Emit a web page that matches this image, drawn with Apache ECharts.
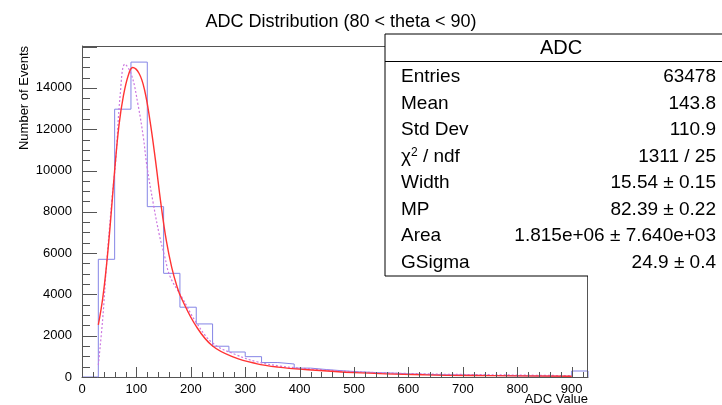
<!DOCTYPE html>
<html>
<head>
<meta charset="utf-8">
<script src="https://cdn.jsdelivr.net/npm/echarts@6/dist/echarts.min.js"></script>
<style>
  html, body { margin: 0; padding: 0; background: #fff; }
  #chart { width: 722px; height: 405px; }
</style>
</head>
<body>
<div id="chart"></div>
<script>
// histogram bins (low edges, width 30) and counts
const binLow = [0, 30, 60, 90, 120, 150, 180, 210, 240, 270, 300, 330, 360, 390, 420, 450,
  480, 510, 540, 570, 600, 630, 660, 690, 720, 750, 780, 810, 840, 870, 900];
const binCounts = [0, 5700, 12970, 15250, 8250, 5020, 3380, 2570, 1490, 1210, 985, 700, 630, 430, 360, 300,
  250, 215, 190, 150, 130, 110, 100, 90, 75, 65, 55, 45, 40, 30, 290];
const xMaxEdge = 930;

// fitted curves
const redX = [30, 38, 45, 52, 60, 68, 76, 85, 93, 105, 115, 125, 135, 145, 155, 165, 175, 183, 210, 240, 280, 320, 360, 410, 500, 630, 750, 900];
const redY = [2520, 3800, 5400, 7400, 10000, 12200, 13600, 14600, 14990, 14700, 13900, 12400, 10500, 8400, 6600, 5300, 4350, 3800, 2450, 1500, 950, 650, 480, 360, 210, 105, 65, 35];
const violetX = [30, 38, 45, 55, 62, 70, 79, 91, 103, 113, 119, 131, 142, 152, 162, 183, 211, 241, 284, 321, 364, 406, 498, 633, 750, 900];
const violetY = [580, 2800, 5400, 8600, 10500, 13600, 15150, 14630, 13180, 11560, 10270, 8400, 6900, 5830, 4860, 3890, 2600, 1630, 1070, 740, 530, 420, 260, 150, 110, 65];

// y tick labels (top of range left unlabeled)
const yTickLabels = ['0', '2000', '4000', '6000', '8000', '10000', '12000', '14000'];

// stats box
const statNames = ['Entries', 'Mean', 'Std Dev', 'chi', 'Width', 'MP', 'Area', 'GSigma'];
const statValues = ['63478', '143.8', '110.9', '1311 / 25', '15.54 \u00b1 0.15', '82.39 \u00b1 0.22',
  '1.815e+06 \u00b1 7.640e+03', '24.9 \u00b1 0.4'];

const FONT = '"Liberation Sans", Arial, sans-serif';
const AXIS_GRAY = '#555';

let chartDom = document.getElementById('chart');
let myChart = echarts.init(chartDom);

let histData = binLow.map((x, i) => [x, binCounts[i]]);
histData.push([xMaxEdge, binCounts[binCounts.length - 1]]);
histData.push([xMaxEdge, 0]);

let redData = redX.map((x, i) => [x, redY[i]]);
let violetData = violetX.map((x, i) => [x, violetY[i]]);

// stats box graphics
let boxLeft = 385, boxTop = 34, rowTop = 77, rowStep = 26.5;
let statGraphics = [
  { type: 'rect', shape: { x: boxLeft, y: boxTop, width: 360, height: 242 },
    style: { fill: '#fff' }, z: 100 },
  { type: 'line', shape: { x1: boxLeft, y1: boxTop, x2: 722, y2: boxTop }, style: { stroke: '#000', lineWidth: 1 }, z: 101 },
  { type: 'line', shape: { x1: boxLeft, y1: boxTop, x2: boxLeft, y2: 276 }, style: { stroke: '#000', lineWidth: 1 }, z: 101 },
  { type: 'line', shape: { x1: boxLeft, y1: 61.5, x2: 722, y2: 61.5 }, style: { stroke: '#000', lineWidth: 1 }, z: 101 },
  { type: 'line', shape: { x1: boxLeft, y1: 276, x2: 588, y2: 276 }, style: { stroke: '#000', lineWidth: 1 }, z: 101 },
  { type: 'text', x: 561, y: 48, z: 102,
    style: { text: 'ADC', font: '20px ' + FONT, fill: '#000', textAlign: 'center', textVerticalAlign: 'middle' } }
];
statNames.forEach((name, i) => {
  let y = rowTop + i * rowStep;
  let label = name === 'chi'
    ? { text: '{a|\u03c7}{s|2}{a| / ndf}', rich: { a: { font: '19px ' + FONT, fill: '#000' }, s: { font: '12px ' + FONT, fill: '#000', verticalAlign: 'top', padding: [0, 0, 8, 0] } } }
    : { text: name };
  statGraphics.push({ type: 'text', x: 401, y: y, z: 102,
    style: Object.assign({ font: '19px ' + FONT, fill: '#000', textAlign: 'left', textVerticalAlign: 'middle' }, label) });
  statGraphics.push({ type: 'text', x: 716, y: y, z: 102,
    style: { text: statValues[i], font: '19px ' + FONT, fill: '#000', textAlign: 'right', textVerticalAlign: 'middle' } });
});

let baseGraphics = [
  // top and right sides of the frame
  { type: 'line', shape: { x1: 82, y1: 46.5, x2: 587.5, y2: 46.5 }, silent: true,
    style: { stroke: AXIS_GRAY, lineWidth: 1 }, z: 50 },
  { type: 'line', shape: { x1: 587.5, y1: 46.5, x2: 587.5, y2: 377 }, silent: true,
    style: { stroke: AXIS_GRAY, lineWidth: 1 }, z: 50 },
  { type: 'text', x: 24, y: 46, rotation: Math.PI / 2,
    style: { text: 'Number of Events', font: '13px ' + FONT, fill: '#000', textAlign: 'right', textVerticalAlign: 'middle' } },
  { type: 'text', x: 588, y: 399,
    style: { text: 'ADC Value', font: '13px ' + FONT, fill: '#000', textAlign: 'right', textVerticalAlign: 'middle' } }
].concat(statGraphics);

let option = {
  animation: false,
  title: {
    text: 'ADC Distribution (80 < theta < 90)',
    left: 336, top: 8, textAlign: 'center',
    textStyle: { fontFamily: FONT, fontSize: 18, fontWeight: 'normal', color: '#000' }
  },
  grid: { left: 82, right: 134, top: 46, bottom: 28 },
  xAxis: {
    type: 'value', min: 0, max: xMaxEdge, interval: 100,
    axisLine: { show: true, lineStyle: { color: AXIS_GRAY } },
    axisTick: { show: false },
    axisLabel: { showMaxLabel: false, margin: 6, fontFamily: FONT, fontSize: 13, color: '#000' },
    splitLine: { show: false }
  },
  yAxis: {
    type: 'value', min: 0, max: 16030, interval: 2000,
    axisLine: { show: true, lineStyle: { color: AXIS_GRAY } },
    axisTick: { show: false },
    axisLabel: {
      margin: 10, fontFamily: FONT, fontSize: 13, color: '#000',
      formatter: (v) => yTickLabels[Math.round(v / 2000)] || ''
    },
    splitLine: { show: false }
  },
  graphic: baseGraphics,
  series: [
    {
      name: 'ADC', type: 'line', step: 'end', data: histData,
      symbol: 'none', lineStyle: { color: '#8585e6', width: 1 }, z: 2
    },
    {
      name: 'violet', type: 'line', smooth: 0.4, data: violetData,
      symbol: 'none', lineStyle: { color: '#cc77e0', width: 1.2, type: [2, 2] }, z: 3
    },
    {
      name: 'fit', type: 'line', smooth: 0.4, data: redData,
      symbol: 'none', lineStyle: { color: '#ff3333', width: 1.4 }, z: 4
    }
  ]
};

option && myChart.setOption(option);

// ROOT style inside ticks, placed through the chart's own axis scales
let tickGraphics = [];
for (let v = 0; v <= 920; v += 20) {
  let p = myChart.convertToPixel({ gridIndex: 0 }, [v, 0]);
  let len = v % 100 === 0 ? 10 : 5;
  let x = Math.round(p[0]) + 0.5;
  tickGraphics.push({ type: 'line', silent: true, z: 50,
    shape: { x1: x, y1: p[1], x2: x, y2: p[1] - len }, style: { stroke: AXIS_GRAY, lineWidth: 1 } });
}
for (let v = 0; v <= 16000; v += 500) {
  let p = myChart.convertToPixel({ gridIndex: 0 }, [0, v]);
  let len = v % 2000 === 0 ? 15 : 8;
  let y = Math.round(p[1]) + 0.5;
  tickGraphics.push({ type: 'line', silent: true, z: 50,
    shape: { x1: p[0], y1: y, x2: p[0] + len, y2: y }, style: { stroke: AXIS_GRAY, lineWidth: 1 } });
}
myChart.setOption({ graphic: baseGraphics.concat(tickGraphics) });
</script>
</body>
</html>
